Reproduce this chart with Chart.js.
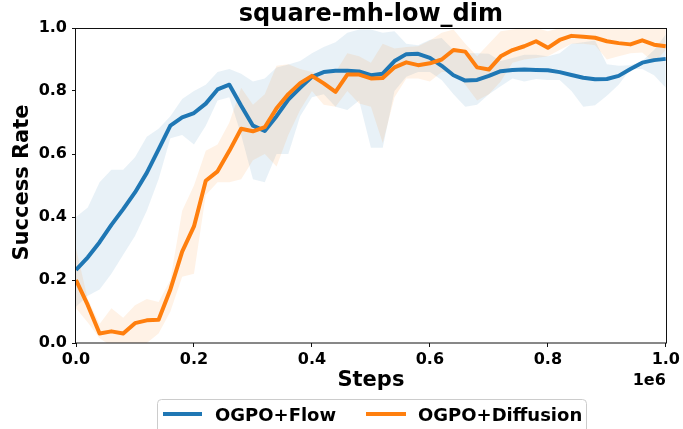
<!DOCTYPE html>
<html><head><meta charset="utf-8">
<script src="https://cdn.jsdelivr.net/npm/chart.js@4.4.1/dist/chart.umd.min.js"></script>
<style>html,body{margin:0;padding:0;background:#fff;overflow:hidden}#c{display:block}</style>
</head><body>
<canvas id="c" width="683" height="429"></canvas>
<script>
// x positions in units of 1e6 steps
const STEPS = [0,0.02,0.04,0.06,0.08,0.10,0.12,0.14,0.16,0.18,0.20,0.22,0.24,0.26,0.28,0.30,0.32,0.34,0.36,0.38,0.40,0.42,0.44,0.46,0.48,0.50,0.52,0.54,0.56,0.58,0.60,0.62,0.64,0.66,0.68,0.70,0.72,0.74,0.76,0.78,0.80,0.82,0.84,0.86,0.88,0.90,0.92,0.94,0.96,0.98,1.00];

const FLOW_MEAN = [0.232,0.272,0.32,0.375,0.425,0.478,0.54,0.615,0.69,0.716,0.73,0.76,0.805,0.82,0.753,0.69,0.673,0.72,0.773,0.81,0.845,0.86,0.864,0.864,0.862,0.85,0.855,0.895,0.917,0.918,0.905,0.88,0.85,0.833,0.835,0.848,0.863,0.867,0.868,0.867,0.866,0.86,0.851,0.842,0.837,0.838,0.848,0.87,0.89,0.898,0.902];
const FLOW_UPPER = [0.40,0.43,0.51,0.55,0.55,0.59,0.655,0.68,0.72,0.775,0.80,0.82,0.86,0.87,0.855,0.83,0.84,0.875,0.884,0.895,0.92,0.94,0.955,0.985,0.995,0.995,0.985,0.99,0.95,0.945,0.963,0.968,0.93,0.92,0.92,0.918,0.895,0.905,0.915,0.915,0.91,0.92,0.95,0.955,0.96,0.885,0.88,0.882,0.895,0.93,0.98];
const FLOW_LOWER = [0.115,0.15,0.17,0.22,0.28,0.34,0.42,0.52,0.65,0.66,0.63,0.69,0.77,0.78,0.66,0.52,0.51,0.60,0.60,0.72,0.78,0.79,0.75,0.74,0.77,0.62,0.62,0.80,0.845,0.86,0.86,0.835,0.79,0.75,0.756,0.79,0.815,0.84,0.83,0.838,0.835,0.835,0.80,0.75,0.755,0.785,0.82,0.87,0.87,0.85,0.81];

const DIFF_MEAN = [0.20,0.12,0.03,0.037,0.03,0.063,0.072,0.074,0.17,0.29,0.37,0.515,0.545,0.61,0.68,0.672,0.685,0.745,0.79,0.825,0.848,0.824,0.797,0.852,0.852,0.84,0.841,0.875,0.891,0.882,0.888,0.90,0.93,0.925,0.875,0.868,0.91,0.93,0.942,0.958,0.937,0.962,0.975,0.972,0.969,0.958,0.952,0.948,0.961,0.947,0.942];
const DIFF_UPPER = [0.30,0.14,0.06,0.11,0.08,0.12,0.14,0.13,0.20,0.42,0.50,0.61,0.63,0.70,0.81,0.756,0.79,0.88,0.885,0.87,0.86,0.85,0.86,0.92,0.91,0.89,0.95,0.935,0.94,0.942,0.96,0.985,0.995,0.95,0.91,0.95,0.99,0.995,1.0,1.0,0.99,1.0,1.0,1.0,1.0,1.0,1.0,0.995,1.0,1.0,1.0];
const DIFF_LOWER = [0.11,0.065,0.015,-0.01,-0.01,-0.01,0.0,0.03,0.10,0.21,0.22,0.47,0.51,0.51,0.52,0.58,0.60,0.56,0.66,0.74,0.80,0.756,0.75,0.80,0.76,0.75,0.635,0.78,0.84,0.84,0.83,0.86,0.86,0.82,0.77,0.79,0.83,0.89,0.90,0.905,0.91,0.93,0.95,0.95,0.945,0.90,0.91,0.92,0.922,0.89,0.93];

const X_TICKS = [0,0.2,0.4,0.6,0.8,1.0];
const Y_TICKS = [0,0.2,0.4,0.6,0.8,1.0];
const SERIES_LABELS = ['OGPO+Flow','OGPO+Diffusion'];

const TITLE = 'square-mh-low_dim';
const X_LABEL = 'Steps';
const Y_LABEL = 'Success Rate';
const X_OFFSET = '1e6';

const FONT = "'DejaVu Sans', sans-serif";
const BLUE = '#1f77b4', ORANGE = '#ff7f0e';
const BLUE_BAND = 'rgba(31,119,180,0.1)', ORANGE_BAND = 'rgba(255,127,14,0.1)';

function pts(ys){ return STEPS.map((x,i)=>({x:x, y:ys[i]})); }

const mplPlugin = {
  id: 'mpl',
  afterDraw(chart){
    const ctx = chart.ctx, a = chart.chartArea;
    ctx.save();
    // frame (spines)
    ctx.strokeStyle = '#111';
    ctx.lineWidth = 1;
    ctx.strokeRect(Math.round(a.left)-0.5, Math.round(a.top)+0.5, Math.round(a.right-a.left)+1, Math.round(a.bottom-a.top)-0.5);
    const cx = (a.left + a.right)/2;
    ctx.fillStyle = '#000';
    // title
    ctx.font = 'bold 24px ' + FONT;
    ctx.textAlign = 'center';
    ctx.textBaseline = 'alphabetic';
    ctx.fillText(TITLE, cx, 21);
    // x label
    ctx.font = 'bold 21px ' + FONT;
    ctx.fillText(X_LABEL, cx, 386);
    // offset text
    ctx.font = 'bold 16px ' + FONT;
    ctx.textAlign = 'right';
    ctx.fillText(X_OFFSET, a.right, 385);
    // y label
    ctx.save();
    ctx.translate(28, (a.top + a.bottom)/2 - 3);
    ctx.rotate(-Math.PI/2);
    ctx.font = 'bold 21px ' + FONT;
    ctx.textAlign = 'center';
    ctx.fillText(Y_LABEL, 0, 0);
    ctx.restore();
    // legend
    ctx.beginPath();
    ctx.roundRect(157.5, 399.5, 429, 60, 4);
    ctx.fillStyle = 'rgba(255,255,255,0.8)';
    ctx.fill();
    ctx.strokeStyle = '#cccccc';
    ctx.lineWidth = 1;
    ctx.stroke();
    const items = [
      {label: SERIES_LABELS[0], color: BLUE, x0: 163, x1: 202, tx: 215},
      {label: SERIES_LABELS[1], color: ORANGE, x0: 366, x1: 406, tx: 418}
    ];
    ctx.font = 'bold 18px ' + FONT;
    ctx.textAlign = 'left';
    items.forEach(it => {
      ctx.strokeStyle = it.color;
      ctx.lineWidth = 4;
      ctx.lineCap = 'butt';
      ctx.beginPath();
      ctx.moveTo(it.x0, 414); ctx.lineTo(it.x1, 414);
      ctx.stroke();
      ctx.fillStyle = '#000';
      ctx.fillText(it.label, it.tx, 421);
    });
    ctx.restore();
  }
};

const lineDs = (label, ys, color) => ({
  label: label, data: pts(ys), borderColor: color, backgroundColor: color,
  borderWidth: 4, pointRadius: 0, tension: 0, fill: false,
  borderJoinStyle: 'round', borderCapStyle: 'butt'
});
const bandDs = (ys, color, fill) => ({
  label: '', data: pts(ys), borderWidth: 0, borderColor: 'rgba(0,0,0,0)',
  backgroundColor: color, pointRadius: 0, tension: 0, fill: fill
});

new Chart(document.getElementById('c'), {
  type: 'line',
  data: {
    datasets: [
      lineDs(SERIES_LABELS[1], DIFF_MEAN, ORANGE),
      lineDs(SERIES_LABELS[0], FLOW_MEAN, BLUE),
      bandDs(DIFF_UPPER, ORANGE_BAND, '+1'),
      bandDs(DIFF_LOWER, ORANGE_BAND, false),
      bandDs(FLOW_UPPER, BLUE_BAND, '+1'),
      bandDs(FLOW_LOWER, BLUE_BAND, false)
    ]
  },
  options: {
    responsive: false, animation: false, devicePixelRatio: 1,
    layout: {padding: {top: 28, right: 16, bottom: 0, left: 0}},
    plugins: {legend: {display: false}, title: {display: false}, tooltip: {enabled: false}},
    scales: {
      x: {
        type: 'linear', min: 0, max: 1,
        afterFit(s){ s.height = 86; },
        afterBuildTicks(s){ s.ticks = X_TICKS.map(v => ({value: v})); },
        ticks: {color: '#000', font: {family: FONT, size: 16, weight: 'bold'}, padding: 3, maxRotation: 0,
                callback: v => Number(v).toFixed(1)},
        grid: {display: true, drawOnChartArea: false, drawTicks: true, tickLength: 4, tickColor: '#111', tickWidth: 1},
        border: {display: false}
      },
      y: {
        type: 'linear', min: 0, max: 1,
        afterFit(s){ s.width = 76; },
        afterBuildTicks(s){ s.ticks = Y_TICKS.map(v => ({value: v})); },
        ticks: {color: '#000', font: {family: FONT, size: 16, weight: 'bold'}, padding: 5,
                callback: v => Number(v).toFixed(1)},
        grid: {display: true, drawOnChartArea: false, drawTicks: true, tickLength: 4, tickColor: '#111', tickWidth: 1},
        border: {display: false}
      }
    }
  },
  plugins: [mplPlugin]
});
</script>
</body></html>
